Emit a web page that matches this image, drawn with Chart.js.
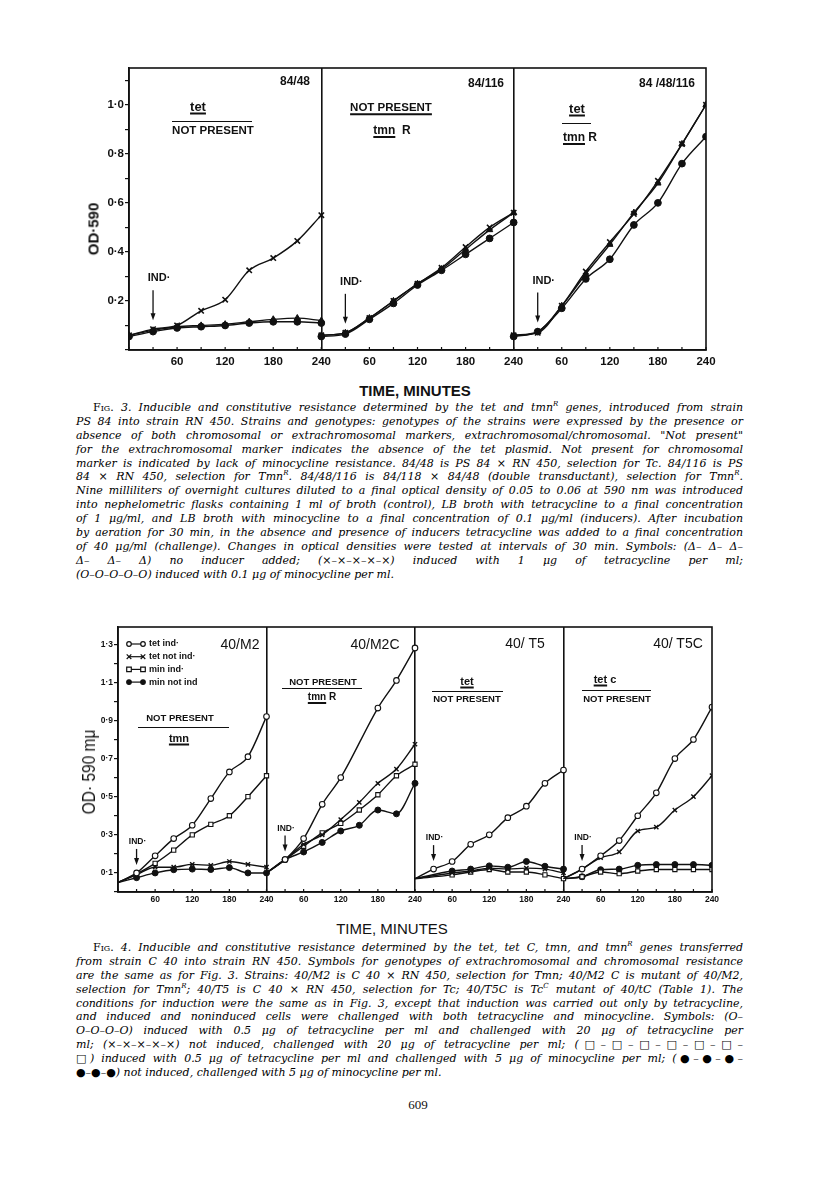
<!DOCTYPE html>
<html>
<head>
<meta charset="utf-8">
<script src="https://cdn.jsdelivr.net/npm/chart.js"></script>
<style>
body { margin: 0; background: #fff; }
#page { position: relative; width: 816px; height: 1191px; overflow: hidden; font-family: "Liberation Sans", Arial, sans-serif; color: #111; }
canvas { position: absolute; left: 0; }
.lab { position: absolute; white-space: nowrap; font-weight: bold; line-height: 1; transform: translate(-50%, -50%); }
.bar { position: absolute; height: 0; border-top: 1.6px solid #111; }
.u { text-decoration: underline; text-decoration-thickness: 1.5px; text-underline-offset: 2px; }
.rot { position: absolute; white-space: nowrap; line-height: 1; transform: translate(-50%, -50%) rotate(-90deg); }
.cap { position: absolute; left: 76px; width: 667px; font-family: "DejaVu Serif", "Liberation Serif", serif; font-style: italic; font-size: 11px; line-height: 13.9px; color: #000; }
.cap div { text-align: justify; text-align-last: justify; height: 13.9px; }
.cap div.last { text-align-last: left; }
.cap .fig { font-style: normal; font-variant: small-caps; }
.cap sup { font-size: 7px; line-height: 0; }
</style>
</head>
<body>
<div id="page">
  <canvas id="fig3" width="816" height="375" style="top:0"></canvas>
  <canvas id="fig4" width="816" height="310" style="top:600px"></canvas>

  <!-- fig 3 annotations -->
  <div class="lab" style="left:295px;top:81px;font-size:12px">84/48</div>
  <div class="lab u" style="left:198px;top:106px;font-size:13px">tet</div>
  <div class="bar" style="left:172px;top:121px;width:80px"></div>
  <div class="lab" style="left:213px;top:131px;font-size:11.5px">NOT PRESENT</div>

  <div class="lab" style="left:486px;top:83px;font-size:12px">84/116</div>
  <div class="lab u" style="left:391px;top:108px;font-size:11.5px">NOT PRESENT</div>
  <div class="lab" style="left:392px;top:130px;font-size:12px"><span class="u">tmn</span>&nbsp; R</div>

  <div class="lab" style="left:667px;top:83px;font-size:12px">84 /48/116</div>
  <div class="lab u" style="left:577px;top:108px;font-size:13px">tet</div>
  <div class="bar" style="left:562px;top:123px;width:29px"></div>
  <div class="lab" style="left:580px;top:137px;font-size:12px"><span class="u">tmn</span> R</div>

  <div class="rot" style="left:93px;top:229px;font-size:15px;font-weight:bold">OD·590</div>
  <div class="lab" style="left:415px;top:390px;font-size:15px">TIME, MINUTES</div>

  <!-- fig 4 annotations -->
  <div class="lab" style="left:240px;top:644px;font-size:14px;font-weight:normal">40/M2</div>
  <div class="lab" style="left:180px;top:718px;font-size:9.5px">NOT PRESENT</div>
  <div class="bar" style="left:138px;top:727px;width:91px"></div>
  <div class="lab u" style="left:179px;top:738px;font-size:11px">tmn</div>

  <div class="lab" style="left:375px;top:644px;font-size:14px;font-weight:normal">40/M2C</div>
  <div class="lab" style="left:323px;top:682px;font-size:9.5px">NOT PRESENT</div>
  <div class="bar" style="left:282px;top:688px;width:80px"></div>
  <div class="lab" style="left:322px;top:697px;font-size:10px"><span class="u">tmn</span> R</div>

  <div class="lab" style="left:525px;top:643px;font-size:14px;font-weight:normal">40/ T5</div>
  <div class="lab u" style="left:467px;top:681px;font-size:11px">tet</div>
  <div class="bar" style="left:432px;top:691px;width:71px"></div>
  <div class="lab" style="left:467px;top:699px;font-size:9.5px">NOT PRESENT</div>

  <div class="lab" style="left:678px;top:643px;font-size:14px;font-weight:normal">40/ T5C</div>
  <div class="lab" style="left:605px;top:679px;font-size:11px"><span class="u">tet</span> c</div>
  <div class="bar" style="left:582px;top:690px;width:69px"></div>
  <div class="lab" style="left:617px;top:699px;font-size:9.5px">NOT PRESENT</div>

  <div class="rot" style="left:89px;top:772px;font-size:18px;transform:translate(-50%,-50%) rotate(-90deg) scale(0.86,1)">OD· 590 mμ</div>
  <div class="lab" style="left:392px;top:928px;font-size:15px;font-weight:normal">TIME, MINUTES</div>

  <!-- captions -->
  <div class="cap" style="top:401px">
    <div style="padding-left:17px"><span class="fig">Fig.</span> 3. Inducible and constitutive resistance determined by the tet and tmn<sup>R</sup> genes, introduced from strain</div>
    <div>PS 84 into strain RN 450. Strains and genotypes: genotypes of the strains were expressed by the presence or</div>
    <div>absence of both chromosomal or extrachromosomal markers, extrachromosomal/chromosomal. "Not present"</div>
    <div>for the extrachromosomal marker indicates the absence of the tet plasmid. Not present for chromosomal</div>
    <div>marker is indicated by lack of minocycline resistance. 84/48 is PS 84 × RN 450, selection for Tc. 84/116 is PS</div>
    <div>84 × RN 450, selection for Tmn<sup>R</sup>. 84/48/116 is 84/118 × 84/48 (double transductant), selection for Tmn<sup>R</sup>.</div>
    <div>Nine milliliters of overnight cultures diluted to a final optical density of 0.05 to 0.06 at 590 nm was introduced</div>
    <div>into nephelometric flasks containing 1 ml of broth (control), LB broth with tetracycline to a final concentration</div>
    <div>of 1 μg/ml, and LB broth with minocycline to a final concentration of 0.1 μg/ml (inducers). After incubation</div>
    <div>by aeration for 30 min, in the absence and presence of inducers tetracycline was added to a final concentration</div>
    <div>of 40 μg/ml (challenge). Changes in optical densities were tested at intervals of 30 min. Symbols: (Δ– Δ– Δ–</div>
    <div>Δ– Δ– Δ) no inducer added; (×–×–×–×–×) induced with 1 μg of tetracycline per ml;</div>
    <div class="last">(O–O–O–O–O) induced with 0.1 μg of minocycline per ml.</div>
  </div>

  <div class="cap" style="top:941px">
    <div style="padding-left:17px"><span class="fig">Fig.</span> 4. Inducible and constitutive resistance determined by the tet, tet C, tmn, and tmn<sup>R</sup> genes transferred</div>
    <div>from strain C 40 into strain RN 450. Symbols for genotypes of extrachromosomal and chromosomal resistance</div>
    <div>are the same as for Fig. 3. Strains: 40/M2 is C 40 × RN 450, selection for Tmn; 40/M2 C is mutant of 40/M2,</div>
    <div>selection for Tmn<sup>R</sup>; 40/T5 is C 40 × RN 450, selection for Tc; 40/T5C is Tc<sup>C</sup> mutant of 40/tC (Table 1). The</div>
    <div>conditions for induction were the same as in Fig. 3, except that induction was carried out only by tetracycline,</div>
    <div>and induced and noninduced cells were challenged with both tetracycline and minocycline. Symbols: (O–</div>
    <div>O–O–O–O) induced with 0.5 μg of tetracycline per ml and challenged with 20 μg of tetracycline per</div>
    <div>ml; (×–×–×–×–×) not induced, challenged with 20 μg of tetracycline per ml; (□–□–□–□–□–□–</div>
    <div>□) induced with 0.5 μg of tetracycline per ml and challenged with 5 μg of minocycline per ml; (●–●–●–</div>
    <div class="last">●–●–●) not induced, challenged with 5 μg of minocycline per ml.</div>
  </div>

  <div style="position:absolute;left:0;width:836px;top:1097px;text-align:center;font-family:'Liberation Serif',serif;font-size:13px">609</div>
</div>

<script>
// sampling times (min), same in every panel
const TIMES = [0, 30, 60, 90, 120, 150, 180, 210, 240];

// Fig. 3 - one row per panel: 84/48, 84/116, 84/48/116
const F3_PANELS = ['84/48', '84/116', '84/48/116'];
const F3_NO_INDUCER = [
    [0.06, 0.08, 0.095, 0.10, 0.105, 0.115, 0.125, 0.13, 0.12],
    [0.06, 0.07, 0.13, 0.20, 0.27, 0.33, 0.41, 0.49, 0.56],
    [0.06, 0.075, 0.18, 0.31, 0.43, 0.56, 0.68, 0.84, 1.0]
];
const F3_TET_IND = [
    [0.06, 0.085, 0.10, 0.16, 0.205, 0.325, 0.375, 0.445, 0.55],
    [0.06, 0.07, 0.13, 0.20, 0.27, 0.335, 0.42, 0.50, 0.56],
    [0.06, 0.07, 0.18, 0.32, 0.44, 0.555, 0.69, 0.84, 1.0]
];
const F3_MIN_IND = [
    [0.055, 0.075, 0.09, 0.095, 0.10, 0.11, 0.115, 0.115, 0.11],
    [0.055, 0.065, 0.125, 0.19, 0.265, 0.325, 0.39, 0.455, 0.52],
    [0.055, 0.075, 0.17, 0.29, 0.37, 0.51, 0.60, 0.76, 0.87]
];

// Fig. 4 - one row per panel: 40/M2, 40/M2C, 40/T5, 40/T5C
const F4_PANELS = ['40/M2', '40/M2C', '40/T5', '40/T5C'];
const F4_TET_IND = [
    [0.05, 0.10, 0.19, 0.28, 0.35, 0.49, 0.63, 0.71, 0.92],
    [0.10, 0.17, 0.28, 0.46, 0.60, null, 0.965, 1.11, 1.28],
    [0.07, 0.12, 0.16, 0.25, 0.30, 0.39, 0.45, 0.57, 0.64],
    [0.07, 0.12, 0.19, 0.27, 0.40, 0.52, 0.70, 0.80, 0.97]
];
const F4_TET_NOT = [
    [0.05, 0.09, 0.13, 0.13, 0.145, 0.14, 0.16, 0.145, 0.13],
    [0.10, 0.17, 0.25, 0.30, 0.38, 0.47, 0.57, 0.645, 0.775],
    [0.07, null, 0.10, 0.11, 0.125, 0.12, 0.125, 0.12, 0.10],
    [0.07, 0.12, 0.18, 0.21, 0.32, 0.34, 0.43, 0.50, 0.61]
];
const F4_MIN_IND = [
    [0.05, 0.095, 0.15, 0.22, 0.30, 0.355, 0.40, 0.50, 0.61],
    [0.10, 0.17, 0.24, 0.31, 0.36, 0.43, 0.51, 0.61, 0.67],
    [0.07, null, 0.09, 0.105, 0.118, 0.105, 0.105, 0.09, 0.07],
    [0.07, 0.08, 0.105, 0.096, 0.11, 0.118, 0.118, 0.118, 0.118]
];
const F4_MIN_NOT = [
    [0.05, 0.075, 0.10, 0.117, 0.12, 0.118, 0.128, 0.10, 0.10],
    [0.10, 0.17, 0.21, 0.26, 0.32, 0.35, 0.43, 0.41, 0.57],
    [0.07, null, 0.11, 0.12, 0.137, 0.13, 0.16, 0.135, 0.12],
    [0.07, 0.08, 0.117, 0.12, 0.14, 0.144, 0.144, 0.144, 0.14]
];

const INK = '#111';
Chart.defaults.font.family = '"Liberation Sans", Arial, sans-serif';
Chart.defaults.color = INK;

// level of the IND arrow = highest point at t=30 in each panel
function indLevels(groups) {
    return groups[0].map((_, p) => Math.max(...groups.map(g => g[p][1] == null ? 0 : g[p][1])));
}

function makeSets(groups, styles, edgeMarker) {
    const sets = [];
    groups.forEach((rows, s) => {
        rows.forEach((vals, p) => {
            const st = styles[s];
            sets.push({
                data: TIMES.map((t, i) => ({ x: p * 240 + t, y: vals[i], t: t })),
                borderColor: INK,
                borderWidth: 1.4,
                tension: 0.4,
                cubicInterpolationMode: 'monotone',
                spanGaps: true,
                pointStyle: st.style,
                pointRadius: ctx => (!edgeMarker && ctx.raw && ctx.raw.t === 0) ? 0 : st.r,
                pointBackgroundColor: st.fill,
                pointBorderColor: INK,
                pointBorderWidth: st.bw
            });
        });
    });
    return sets;
}

// full box round the plot area
const frame = {
    id: 'frame',
    afterDraw(chart) {
        const { ctx, chartArea: a } = chart;
        ctx.save();
        ctx.strokeStyle = INK;
        ctx.lineWidth = 1.6;
        ctx.strokeRect(a.left, a.top, a.right - a.left, a.bottom - a.top);
        ctx.restore();
    }
};

// short time ticks pointing into the plot
const innerTicks = {
    id: 'innerTicks',
    afterDraw(chart) {
        const { ctx, chartArea: a, scales: { x } } = chart;
        ctx.save();
        ctx.strokeStyle = INK;
        ctx.lineWidth = 1.2;
        x.ticks.forEach(tk => {
            const px = x.getPixelForValue(tk.value);
            ctx.beginPath();
            ctx.moveTo(px, a.bottom);
            ctx.lineTo(px, a.bottom - 3);
            ctx.stroke();
        });
        ctx.restore();
    }
};

const indArrows = {
    id: 'indArrows',
    afterDatasetsDraw(chart, args, o) {
        const { ctx, scales: { x, y } } = chart;
        ctx.save();
        ctx.strokeStyle = INK;
        ctx.fillStyle = INK;
        ctx.lineWidth = 1.3;
        ctx.font = o.font;
        ctx.textAlign = 'center';
        ctx.textBaseline = 'middle';
        o.levels.forEach((v, p) => {
            const px = x.getPixelForValue(p * 240 + 30);
            const tip = y.getPixelForValue(v) - o.gap;
            const top = tip - o.len;
            ctx.beginPath();
            ctx.moveTo(px, top);
            ctx.lineTo(px, tip - 4);
            ctx.stroke();
            ctx.beginPath();
            ctx.moveTo(px, tip);
            ctx.lineTo(px - 2.5, tip - 7);
            ctx.lineTo(px + 2.5, tip - 7);
            ctx.closePath();
            ctx.fill();
            ctx.fillText('IND·', px + o.dx, top - o.textGap);
        });
        ctx.restore();
    }
};

function drawMark(ctx, style, fill, x, y, r) {
    ctx.beginPath();
    if (style === 'crossRot') {
        ctx.moveTo(x - r, y - r); ctx.lineTo(x + r, y + r);
        ctx.moveTo(x + r, y - r); ctx.lineTo(x - r, y + r);
        ctx.stroke();
        return;
    }
    if (style === 'rect') ctx.rect(x - r, y - r, 2 * r, 2 * r);
    else ctx.arc(x, y, r, 0, Math.PI * 2);
    ctx.fillStyle = fill;
    ctx.fill();
    ctx.stroke();
}

// key in the top-left corner of Fig. 4
const keyBox = {
    id: 'keyBox',
    afterDraw(chart, args, o) {
        const { ctx, chartArea: a } = chart;
        ctx.save();
        ctx.strokeStyle = INK;
        ctx.lineWidth = 1.2;
        ctx.font = 'bold 9px "Liberation Sans", Arial, sans-serif';
        ctx.textBaseline = 'middle';
        o.items.forEach((it, i) => {
            const yy = a.top + 17 + i * 12.7;
            const x0 = a.left + 11, x1 = a.left + 25;
            ctx.beginPath();
            ctx.moveTo(x0, yy); ctx.lineTo(x1, yy);
            ctx.stroke();
            drawMark(ctx, it.style, it.fill, x0, yy, 2.3);
            drawMark(ctx, it.style, it.fill, x1, yy, 2.3);
            ctx.fillStyle = INK;
            ctx.fillText(it.label, a.left + 31, yy);
        });
        ctx.restore();
    }
};

function timeTick(v) {
    if (v === 0 || v % 60 !== 0) return '';
    return v % 240 === 0 ? '240' : String(v % 240);
}

function buildChart(id, cfg) {
    return new Chart(document.getElementById(id), {
        type: 'line',
        data: { datasets: cfg.datasets },
        options: {
            responsive: false,
            animation: false,
            layout: { padding: cfg.padding },
            plugins: {
                legend: { display: false },
                tooltip: { enabled: false },
                indArrows: cfg.ind,
                keyBox: cfg.key || { items: [] }
            },
            scales: {
                x: {
                    type: 'linear',
                    min: 0,
                    max: cfg.xMax,
                    afterFit: s => { s.height = cfg.xHeight; },
                    ticks: {
                        stepSize: 30,
                        autoSkip: false,
                        maxRotation: 0,
                        padding: cfg.xPad,
                        font: { size: cfg.tickSize, weight: 'bold' },
                        callback: timeTick
                    },
                    grid: {
                        drawTicks: false,
                        lineWidth: 1.6,
                        color: c => (c.tick && c.tick.value > 0 && c.tick.value < cfg.xMax && c.tick.value % 240 === 0) ? INK : 'rgba(0,0,0,0)'
                    },
                    border: { color: INK, width: 1.6 }
                },
                y: {
                    min: 0,
                    max: cfg.yMax,
                    afterFit: s => { s.width = cfg.yWidth; },
                    ticks: {
                        stepSize: 0.1,
                        includeBounds: false,
                        autoSkip: false,
                        padding: 1,
                        font: { size: cfg.tickSize, weight: 'bold' },
                        callback: cfg.yLabel
                    },
                    grid: { drawOnChartArea: false, drawTicks: true, tickLength: 4, color: INK, lineWidth: 1.2 },
                    border: { color: INK, width: 1.6 }
                }
            }
        },
        plugins: [frame, innerTicks, indArrows, keyBox]
    });
}

// Fig. 3
buildChart('fig3', {
    datasets: makeSets([F3_NO_INDUCER, F3_TET_IND, F3_MIN_IND], [
        { style: 'triangle', fill: INK, r: 3.6, bw: 1 },
        { style: 'crossRot', fill: INK, r: 3.8, bw: 1.6 },
        { style: 'circle', fill: INK, r: 3.4, bw: 1 }
    ], true),
    padding: { left: 60, right: 110, top: 68, bottom: 0 },
    yWidth: 69,
    xHeight: 25,
    xMax: 720,
    yMax: 1.15,
    xPad: 5,
    tickSize: 11.5,
    yLabel: v => {
        const k = Math.round(v * 10);
        return (k > 0 && k <= 10 && k % 2 === 0) ? (k / 10).toFixed(1).replace('.', '·') : '';
    },
    ind: { levels: indLevels([F3_NO_INDUCER, F3_TET_IND, F3_MIN_IND]), gap: 9, len: 30, textGap: 12, dx: 6, font: 'bold 11px "Liberation Sans", Arial, sans-serif' }
});

// Fig. 4
buildChart('fig4', {
    datasets: makeSets([F4_TET_IND, F4_TET_NOT, F4_MIN_IND, F4_MIN_NOT], [
        { style: 'circle', fill: '#fff', r: 2.8, bw: 1.1 },
        { style: 'crossRot', fill: INK, r: 3, bw: 1.4 },
        { style: 'rect', fill: '#fff', r: 3, bw: 1.1 },
        { style: 'circle', fill: INK, r: 3, bw: 1 }
    ], false),
    padding: { left: 60, right: 104, top: 27, bottom: 0 },
    yWidth: 58,
    xHeight: 18,
    xMax: 960,
    yMax: 1.39,
    xPad: 3,
    tickSize: 8.5,
    yLabel: v => {
        const k = Math.round(v * 10);
        return (k % 2 === 1 && k <= 13) ? (k / 10).toFixed(1).replace('.', '·') : '';
    },
    ind: { levels: indLevels([F4_TET_IND, F4_TET_NOT, F4_MIN_IND, F4_MIN_NOT]), gap: 8, len: 16, textGap: 7, dx: 1, font: 'bold 8.5px "Liberation Sans", Arial, sans-serif' },
    key: { items: [
        { label: 'tet ind·', style: 'circle', fill: '#fff' },
        { label: 'tet not ind·', style: 'crossRot', fill: INK },
        { label: 'min ind·', style: 'rect', fill: '#fff' },
        { label: 'min not ind', style: 'circle', fill: INK }
    ] }
});
</script>
</body>
</html>
